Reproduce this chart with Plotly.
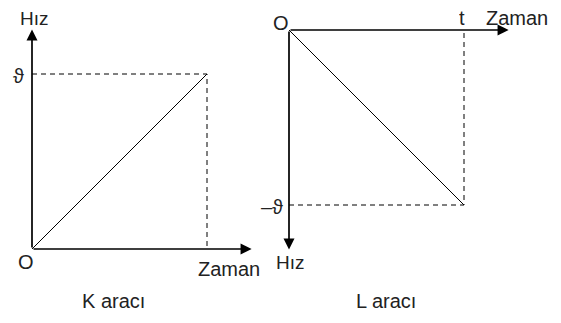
import plotly.graph_objects as go

# Page body has an 8px margin, so the figure is a bit smaller than the window
W, H = 553, 315
OFF = 8

# data: K car speed rises 0 -> v, L car speed falls 0 -> -v over time 0 -> t
k_time = [0, 1]
k_speed = [0, 1]
l_time = [0, 1]
l_speed = [0, -1]
axis_len = 1.255

k_labels = ["Hız", "ϑ", "O", "Zaman"]
l_labels = ["O", "t", "Zaman", "–ϑ", "Hız"]
captions = ["K aracı", "L aracı"]

FONT = "Liberation Sans, Arial, Helvetica, sans-serif"
TXT = "#222222"
UNIT = 175.0
k_origin = (32 - OFF, 249 - OFF)   # figure px of K origin
l_origin = (289 - OFF, 30 - OFF)   # figure px of L origin

fig = go.Figure()

# K chart
fig.add_trace(go.Scatter(x=k_time, y=k_speed, mode="lines", line=dict(color="black", width=1),
                         xaxis="x", yaxis="y", hoverinfo="skip"))
fig.add_trace(go.Scatter(x=[0, k_time[1], k_time[1]], y=[k_speed[1], k_speed[1], 0], mode="lines",
                         line=dict(color="black", width=1, dash="5px,4px"), xaxis="x", yaxis="y", hoverinfo="skip"))
# L chart
fig.add_trace(go.Scatter(x=l_time, y=l_speed, mode="lines", line=dict(color="black", width=1),
                         xaxis="x2", yaxis="y2", hoverinfo="skip"))
fig.add_trace(go.Scatter(x=[0, l_time[1], l_time[1]], y=[l_speed[1], l_speed[1], 0], mode="lines",
                         line=dict(color="black", width=1, dash="5px,4px"), xaxis="x2", yaxis="y2", hoverinfo="skip"))

ann = []
def arrow(x, y, xr, yr):
    ann.append(dict(x=x, y=y, ax=0, ay=0, xref=xr, yref=yr, axref=xr, ayref=yr,
                    showarrow=True, arrowhead=2, arrowsize=1.3, arrowwidth=1.7,
                    arrowcolor="black", text=""))

arrow(0, axis_len, "x", "y")
arrow(axis_len, 0, "x", "y")
arrow(axis_len, 0, "x2", "y2")
arrow(0, -axis_len, "x2", "y2")

def label(text, x, y, xr, yr, xs, ys, size=20, h=None):
    d = dict(x=x, y=y, xref=xr, yref=yr, text=text, showarrow=False,
             xshift=xs, yshift=ys, xanchor="center", yanchor="middle",
             font=dict(family=FONT, size=size, color=TXT))
    if h is not None:
        d["height"] = h
    ann.append(d)

# K labels
label(k_labels[0], 0, axis_len, "x", "y", 2, 11, 19)
label(k_labels[1], 0, k_speed[1], "x", "y", -14, -2)
label(k_labels[2], 0, 0, "x", "y", -6.5, -12.5)
label(k_labels[3], axis_len, 0, "x", "y", -23, -19.5)
# L labels
label(l_labels[0], 0, 0, "x2", "y2", -8.5, 7.5, h=18)
label(l_labels[1], l_time[1], 0, "x2", "y2", -2.5, 12, h=18)
label(l_labels[2], axis_len, 0, "x2", "y2", 8.5, 12, h=18)
label(l_labels[3], 0, l_speed[1], "x2", "y2", -17, -2)
label(l_labels[4], 0, -axis_len, "x2", "y2", 1, -13, 19)

for t, (px, py) in zip(captions, [(113.5 - OFF, 301 - OFF), (386 - OFF, 301 - OFF)]):
    ann.append(dict(x=px / W, y=1 - py / H, xref="paper", yref="paper", text=t, showarrow=False,
                    xanchor="center", yanchor="middle", font=dict(family=FONT, size=20, color=TXT)))

hidden = dict(visible=False, showgrid=False, zeroline=False, fixedrange=True)
fig.update_layout(
    width=W, height=H, margin=dict(l=0, r=0, t=0, b=0),
    paper_bgcolor="white", plot_bgcolor="white", showlegend=False,
    xaxis=dict(range=[-k_origin[0] / UNIT, (W - k_origin[0]) / UNIT], domain=[0, 1], **hidden),
    yaxis=dict(range=[(k_origin[1] - H) / UNIT, k_origin[1] / UNIT], domain=[0, 1], **hidden),
    xaxis2=dict(range=[-l_origin[0] / UNIT, (W - l_origin[0]) / UNIT], domain=[0, 1], overlaying="x", **hidden),
    yaxis2=dict(range=[-(H - l_origin[1]) / UNIT, l_origin[1] / UNIT], domain=[0, 1], overlaying="y", **hidden),
    annotations=ann,
)
fig.write_html("out.html")
